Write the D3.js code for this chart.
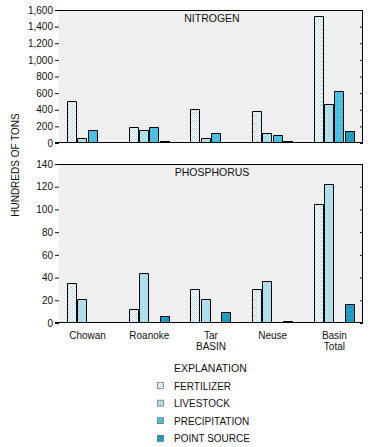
<!DOCTYPE html>
<html><head><meta charset="utf-8">
<script src="https://cdn.jsdelivr.net/npm/d3@7"></script>
<style>body{margin:0;background:#fff}svg{display:block}text{font-family:"Liberation Sans",Arial,sans-serif;fill:#111}</style>
</head><body><div id="chart"></div>
<script>
const categories = ["Chowan", "Roanoke", "Tar|BASIN", "Neuse", "Basin|Total"];
const seriesNames = ["FERTILIZER", "LIVESTOCK", "PRECIPITATION", "POINT SOURCE"];
const nitrogenFertilizer = [510, 190, 410, 390, 1530];
const nitrogenLivestock = [60, 155, 60, 115, 470];
const nitrogenPrecipitation = [160, 190, 120, 95, 630];
const nitrogenPointSource = [0, 25, 0, 25, 145];
const phosphorusFertilizer = [35, 12, 30, 30, 105];
const phosphorusLivestock = [21, 44, 21, 37, 122];
const phosphorusPrecipitation = [0, 0, 0, 0, 0];
const phosphorusPointSource = [0, 6, 10, 2, 17];
const nitrogenTicks = [0, 200, 400, 600, 800, 1000, 1200, 1400, 1600];
const phosphorusTicks = [0, 20, 40, 60, 80, 100, 120, 140];

const W = 370, H = 447;
const svg = d3.select("#chart").append("svg").attr("width", W).attr("height", H);
const defs = svg.append("defs");
const pats = [
  {base:"#ffffff", a:"#a0f0f8", b:"#d0c8f8"},
  {base:"#b0e8ee", a:"#88dce6", b:"#c8c0f2"},
  {base:"#44c8e4", a:"#30b8dc", b:"#7ea8e4"},
  {base:"#1ea8ca", a:"#1894c0", b:"#1a7cac"}
];
pats.forEach((p,i)=>{
  const pt = defs.append("pattern").attr("id","pat"+i).attr("patternUnits","userSpaceOnUse")
    .attr("width",4).attr("height",4);
  pt.append("rect").attr("width",4).attr("height",4).attr("fill",p.base);
  [[0,0,p.a],[2,2,p.a],[2,0,p.b],[0,2,p.b],[1,1,p.a],[3,3,p.b]].forEach(d=>{
    pt.append("rect").attr("x",d[0]).attr("y",d[1]).attr("width",1).attr("height",1).attr("fill",d[2]);
  });
});

const left = 59, right = 363;
const x0 = d3.scaleBand().domain(categories).range([left, right]).paddingInner(0.335).paddingOuter(0.131);
const x1 = d3.scaleBand().domain(seriesNames).range([0, x0.bandwidth()]);

function panel(top, bottom, maxV, ticks, label, series) {
  const y = d3.scaleLinear().domain([0, maxV]).range([bottom, top]);
  const g = svg.append("g");
  g.append("rect").attr("x", left).attr("y", top).attr("width", right-left).attr("height", bottom-top).attr("fill", "#efefef");
  series.forEach((vals, si) => {
    vals.forEach((v, ci) => {
      if (v <= 0) return;
      const xx = Math.round(x0(categories[ci]) + x1(seriesNames[si]));
      const w = Math.round(x1.bandwidth());
      const yt = Math.round(y(v));
      g.append("rect").attr("x", xx).attr("y", yt).attr("width", w).attr("height", bottom - yt)
        .attr("fill", "url(#pat"+si+")");
      g.append("path").attr("d", `M${xx+0.5},${bottom}V${yt+0.5}H${xx+w-0.5}V${bottom}`)
        .attr("fill","none").attr("stroke","#000").attr("stroke-width",1);
    });
  });
  const ax = d3.axisLeft(y).tickValues(ticks).tickSize(4).tickPadding(2).tickFormat(d3.format(","));
  const ag = g.append("g").attr("transform", `translate(${left},0)`).call(ax);
  ag.select(".domain").remove();
  ag.selectAll("text").attr("font-size", 10).style("font-family","'Liberation Sans',Arial,sans-serif").attr("fill","#111");
  ag.selectAll("line").attr("stroke","#111");
  const ar = d3.axisRight(y).tickValues(ticks).tickSize(-3).tickFormat("");
  const rg = g.append("g").attr("transform", `translate(${right},0)`).call(ar);
  rg.select(".domain").remove();
  rg.selectAll("line").attr("stroke","#111");
  g.append("path").attr("d", `M${left-4},${top+0.5}H${right-0.5}V${bottom-0.5}H${left-4}`)
    .attr("fill","none").attr("stroke","#000").attr("stroke-width",1);
  g.append("text").attr("x", 212).attr("y", top + 12).attr("text-anchor","middle").attr("font-size", 10.5).text(label);
}

panel(10, 143, 1600, nitrogenTicks, "NITROGEN",
  [nitrogenFertilizer, nitrogenLivestock, nitrogenPrecipitation, nitrogenPointSource]);
panel(164, 323, 140, phosphorusTicks, "PHOSPHORUS",
  [phosphorusFertilizer, phosphorusLivestock, phosphorusPrecipitation, phosphorusPointSource]);

categories.forEach(c => {
  const parts = c.split("|");
  const cx = x0(c) + x0.bandwidth()/2;
  parts.forEach((p, i) => {
    svg.append("text").attr("x", cx).attr("y", 339 + i*11).attr("text-anchor","middle").attr("font-size", 10).text(p);
  });
});

svg.append("text").attr("transform","translate(19,165) rotate(-90)").attr("text-anchor","middle")
  .attr("font-size", 10).text("HUNDREDS OF TONS");

svg.append("text").attr("x", 174).attr("y", 372).attr("font-size", 10.5).text("EXPLANATION");
seriesNames.forEach((s, i) => {
  const yy = 386 + i*17.6;
  svg.append("rect").attr("x", 157.5).attr("y", yy-3.5).attr("width", 6).attr("height", 6)
    .attr("fill", "url(#pat"+i+")").attr("stroke","#555").attr("stroke-width",0.6);
  svg.append("text").attr("x", 174).attr("y", yy+3.5).attr("font-size", 10).text(s);
});
</script></body></html>
